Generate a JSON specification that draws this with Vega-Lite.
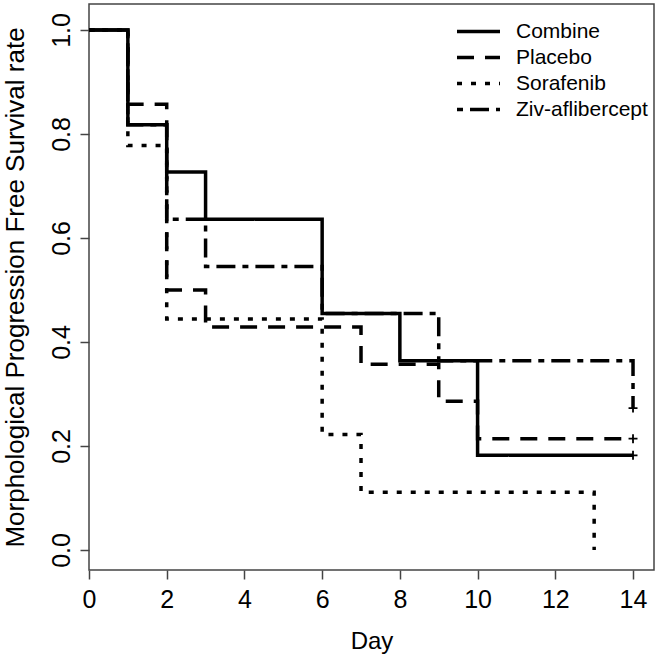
{
  "$schema": "https://vega.github.io/schema/vega-lite/v6.json",
  "width": 565,
  "height": 566,
  "autosize": "none",
  "padding": {"left": 89, "top": 4, "right": 6, "bottom": 91},
  "config": {
    "font": "Liberation Sans",
    "view": {"stroke": "#444", "strokeWidth": 1.5},
    "axis": {"grid": false, "domain": false, "tickColor": "#444", "tickWidth": 1.5, "tickSize": 9, "labelColor": "#000", "titleColor": "#000", "labelFont": "Liberation Sans", "titleFont": "Liberation Sans", "titleFontWeight": "normal", "labelFlush": false, "labelOverlap": false}
  },
  "datasets": {
    "km": [
      {"series": "Combine", "day": 0, "surv": 1.0},
      {"series": "Combine", "day": 1, "surv": 0.818},
      {"series": "Combine", "day": 2, "surv": 0.727},
      {"series": "Combine", "day": 3, "surv": 0.636},
      {"series": "Combine", "day": 6, "surv": 0.455},
      {"series": "Combine", "day": 8, "surv": 0.364},
      {"series": "Combine", "day": 10, "surv": 0.182},
      {"series": "Combine", "day": 14, "surv": 0.182},
      {"series": "Placebo", "day": 0, "surv": 1.0},
      {"series": "Placebo", "day": 1, "surv": 0.857},
      {"series": "Placebo", "day": 2, "surv": 0.5},
      {"series": "Placebo", "day": 3, "surv": 0.429},
      {"series": "Placebo", "day": 7, "surv": 0.357},
      {"series": "Placebo", "day": 9, "surv": 0.286},
      {"series": "Placebo", "day": 10, "surv": 0.214},
      {"series": "Placebo", "day": 14, "surv": 0.214},
      {"series": "Sorafenib", "day": 0, "surv": 1.0},
      {"series": "Sorafenib", "day": 1, "surv": 0.778},
      {"series": "Sorafenib", "day": 2, "surv": 0.444},
      {"series": "Sorafenib", "day": 6, "surv": 0.222},
      {"series": "Sorafenib", "day": 7, "surv": 0.111},
      {"series": "Sorafenib", "day": 13, "surv": 0.0},
      {"series": "Ziv-aflibercept", "day": 0, "surv": 1.0},
      {"series": "Ziv-aflibercept", "day": 1, "surv": 0.818},
      {"series": "Ziv-aflibercept", "day": 2, "surv": 0.636},
      {"series": "Ziv-aflibercept", "day": 3, "surv": 0.545},
      {"series": "Ziv-aflibercept", "day": 6, "surv": 0.455},
      {"series": "Ziv-aflibercept", "day": 9, "surv": 0.364},
      {"series": "Ziv-aflibercept", "day": 14, "surv": 0.273}
    ],
    "censor": [
      {"series": "Combine", "day": 14, "surv": 0.182},
      {"series": "Placebo", "day": 14, "surv": 0.214},
      {"series": "Ziv-aflibercept", "day": 14, "surv": 0.273}
    ]
  },
  "layer": [
    {
      "data": {"name": "km"},
      "mark": {"type": "line", "interpolate": "step-after", "color": "#000", "strokeWidth": 3.5, "strokeCap": "butt", "clip": true},
      "encoding": {
        "x": {"field": "day", "type": "quantitative", "scale": {"domain": [0, 14.54], "nice": false, "zero": false},
          "axis": {"values": [0, 2, 4, 6, 8, 10, 12, 14], "title": "Day", "labelFontSize": 25, "titleFontSize": 24, "labelPadding": 8, "titlePadding": 17}},
        "y": {"field": "surv", "type": "quantitative", "scale": {"domain": [-0.0385, 1.05], "nice": false, "zero": false},
          "axis": {"values": [0, 0.2, 0.4, 0.6, 0.8, 1.0], "format": ".1f", "title": "Morphological Progression Free Survival rate", "labelFontSize": 25, "titleFontSize": 26, "labelAngle": -90, "labelAlign": "center", "labelBaseline": "alphabetic", "labelPadding": 11, "titlePadding": 21}},
        "strokeDash": {"field": "series", "type": "nominal",
          "scale": {"domain": ["Combine", "Placebo", "Sorafenib", "Ziv-aflibercept"], "range": [[1, 0], [17, 11], [5, 9], [6, 7, 19, 7]]},
          "legend": {"title": null, "orient": "none", "legendX": 366, "legendY": 17, "symbolType": "stroke", "symbolSize": 1849, "symbolStrokeWidth": 3.5, "symbolStrokeColor": "#000", "labelFontSize": 21, "labelFont": "Liberation Sans", "labelColor": "#000", "labelOffset": 14, "rowPadding": 4, "clipHeight": 21}}
      }
    },
    {
      "data": {"name": "censor"},
      "mark": {"type": "point", "shape": "M-1,0L1,0M0,-1L0,1", "filled": false, "stroke": "#000", "strokeWidth": 1.8, "size": 80, "opacity": 1},
      "encoding": {
        "x": {"field": "day", "type": "quantitative"},
        "y": {"field": "surv", "type": "quantitative"}
      }
    }
  ]
}
